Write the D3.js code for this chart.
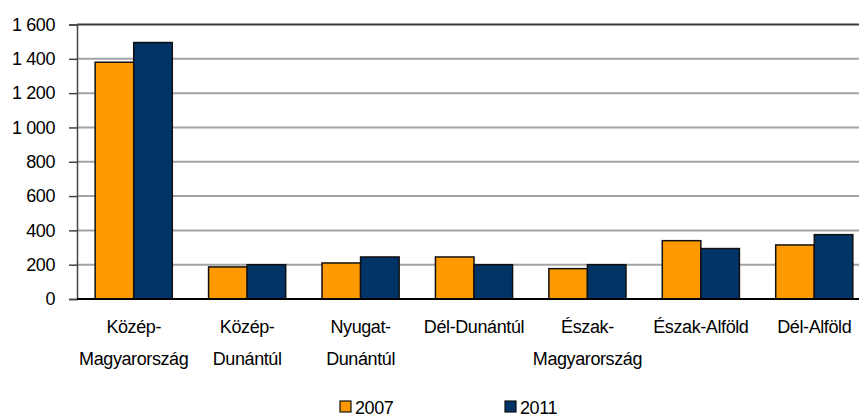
<!DOCTYPE html>
<html>
<head>
<meta charset="utf-8">
<script src="https://cdn.jsdelivr.net/npm/d3@7"></script>
<style>
  html, body { margin: 0; padding: 0; background: #fff; }
  svg { display: block; }
  text { font-family: "Liberation Sans", Arial, sans-serif; fill: #000; }
</style>
</head>
<body>
<svg id="chart" width="859" height="419"></svg>
<script>
const categories = ["Közép-Magyarország", "Közép-Dunántúl", "Nyugat-Dunántúl", "Dél-Dunántúl", "Észak-Magyarország", "Észak-Alföld", "Dél-Alföld"];
const categoryLabelLines = [["Közép-", "Magyarország"], ["Közép-", "Dunántúl"], ["Nyugat-", "Dunántúl"], ["Dél-Dunántúl"], ["Észak-", "Magyarország"], ["Észak-Alföld"], ["Dél-Alföld"]];
const seriesNames = ["2007", "2011"];
const values2007 = [1380, 187, 210, 245, 177, 340, 315];
const values2011 = [1495, 200, 245, 200, 200, 294, 375];
const yTicks = [0, 200, 400, 600, 800, 1000, 1200, 1400, 1600];
const seriesColors = ["#FF9900", "#003366"];

const svg = d3.select("#chart");
const plotLeft = 77, plotRight = 871, plotTop = 24.5, plotBottom = 299;
const fontSize = 18;

const x0 = d3.scaleBand().domain(categories).range([plotLeft, plotRight]).paddingInner(0.32).paddingOuter(0.16);
const x1 = d3.scaleBand().domain(seriesNames).range([0, x0.bandwidth()]);
const y = d3.scaleLinear().domain([0, 1600]).range([plotBottom, plotTop]);
const color = d3.scaleOrdinal().domain(seriesNames).range(seriesColors);

const huLocale = d3.formatLocale({decimal: ",", thousands: " ", grouping: [3], currency: ["", ""]});
const fmt = huLocale.format(",");

// gridlines
svg.append("g").selectAll("line").data(yTicks.filter(d => d > 0)).join("line")
  .attr("x1", plotLeft).attr("x2", 859)
  .attr("y1", d => y(d)).attr("y2", d => y(d))
  .attr("stroke", d => d === 1600 ? "#3a3a3a" : "#a3a3a3")
  .attr("stroke-width", 2);

// y axis
const yAxis = d3.axisLeft(y).tickValues(yTicks).tickFormat(fmt).tickSize(8).tickPadding(14);
const gy = svg.append("g").attr("transform", `translate(${plotLeft},0)`).call(yAxis);
gy.attr("font-size", fontSize).attr("font-family", "'Liberation Sans', Arial, sans-serif");
gy.select(".domain").attr("stroke", "#444").attr("stroke-width", 1.5);
gy.selectAll(".tick line").attr("stroke", "#444").attr("stroke-width", 1.5);
gy.selectAll(".tick text").attr("font-size", fontSize).attr("letter-spacing", -0.4).attr("fill", "#000");

// bars
const data = categories.map((c, i) => ({cat: c, vals: [{s: seriesNames[0], v: values2007[i]}, {s: seriesNames[1], v: values2011[i]}]}));
svg.append("g").selectAll("g").data(data).join("g")
  .attr("transform", d => `translate(${x0(d.cat)},0)`)
  .selectAll("rect").data(d => d.vals).join("rect")
  .attr("x", d => x1(d.s))
  .attr("y", d => y(d.v))
  .attr("width", x1.bandwidth())
  .attr("height", d => y(0) - y(d.v))
  .attr("fill", d => color(d.s))
  .attr("stroke", "#111")
  .attr("stroke-width", 1.5);

// baseline
svg.append("line").attr("x1", plotLeft).attr("x2", 859).attr("y1", y(0)).attr("y2", y(0))
  .attr("stroke", "#000").attr("stroke-width", 2);

// x labels
const xl = svg.append("g").selectAll("text").data(categories).join("text")
  .attr("text-anchor", "middle")
  .attr("font-size", fontSize)
  .attr("letter-spacing", -0.4);
xl.each(function(c, i) {
  const t = d3.select(this);
  categoryLabelLines[i].forEach((line, j) => {
    t.append("tspan").attr("x", x0(c) + x0.bandwidth() / 2).attr("y", 332.5 + j * 32).text(line);
  });
});

// legend
const legendX = [340, 505];
const lg = svg.append("g").selectAll("g").data(seriesNames).join("g")
  .attr("transform", (d, i) => `translate(${legendX[i]},401)`);
lg.append("rect").attr("width", 11).attr("height", 11).attr("fill", d => color(d)).attr("stroke", "#111").attr("stroke-width", 1.2);
lg.append("text").attr("x", 15).attr("y", 12.5).attr("font-size", fontSize).attr("letter-spacing", -0.4).text(d => d);
</script>
</body>
</html>
